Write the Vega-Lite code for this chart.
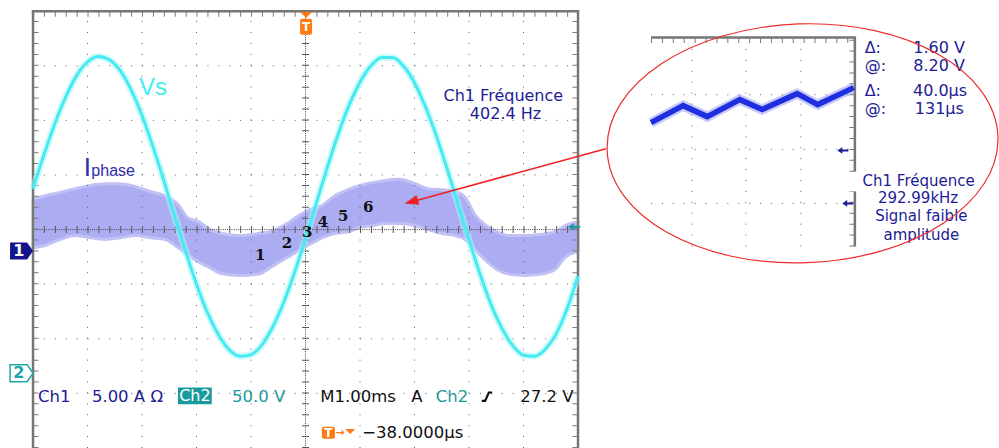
{
  "$schema": "https://vega.github.io/schema/vega-lite/v6.json",
  "width": 999,
  "height": 448,
  "autosize": "none",
  "padding": 0,
  "background": "white",
  "config": {"view": {"stroke": null}},
  "datasets": {
    "h": [
      {"k": "grid", "x": -5, "x2": 5, "y": -3}, {"k": "grid", "x": -5, "x2": 5, "y": -2}, {"k": "grid", "x": -5, "x2": 5, "y": -1},
      {"k": "grid", "x": -5, "x2": 5, "y": 1}, {"k": "grid", "x": -5, "x2": 5, "y": 2}, {"k": "grid", "x": -5, "x2": 5, "y": 3},
      {"k": "grid", "x": 6.34, "x2": 10.08, "y": 2.47}, {"k": "grid", "x": 6.34, "x2": 10.08, "y": 1.47}, {"k": "grid", "x": 6.34, "x2": 10.08, "y": 0.48},
      {"k": "center", "x": -5, "x2": 5, "y": 0},
      {"k": "border", "x": -5.02, "x2": 5.02, "y": 4}, {"k": "border", "x": 6.34, "x2": 10.1, "y": 3.52},
      {"k": "tick", "x": -5, "x2": 5, "y": 3.945}, {"k": "tick", "x": 6.34, "x2": 10.08, "y": 3.465}
    ],
    "v": [
      {"k": "grid", "x": -4, "y": -4, "y2": 4}, {"k": "grid", "x": -3, "y": -4, "y2": 4}, {"k": "grid", "x": -2, "y": -4, "y2": 4}, {"k": "grid", "x": -1, "y": -4, "y2": 4},
      {"k": "grid", "x": 1, "y": -4, "y2": 4}, {"k": "grid", "x": 2, "y": -4, "y2": 4}, {"k": "grid", "x": 3, "y": -4, "y2": 4}, {"k": "grid", "x": 4, "y": -4, "y2": 4},
      {"k": "grid", "x": 7.09, "y": -0.31, "y2": 3.52}, {"k": "grid", "x": 8.08, "y": -0.31, "y2": 3.52}, {"k": "grid", "x": 9.09, "y": -0.31, "y2": 3.52},
      {"k": "center", "x": 0, "y": -4, "y2": 4},
      {"k": "border", "x": -5, "y": -4, "y2": 4.02}, {"k": "border", "x": 5, "y": -4, "y2": 4.02},
      {"k": "border", "x": 10.08, "y": 1.06, "y2": 3.53}, {"k": "border", "x": 10.08, "y": -0.31, "y2": 0.7},
      {"k": "tick", "x": -4.945, "y": -4, "y2": 4}, {"k": "tick", "x": 4.945, "y": -4, "y2": 4},
      {"k": "tick", "x": 10.025, "y": 1.06, "y2": 3.52}, {"k": "tick", "x": 10.025, "y": -0.31, "y2": 0.7}
    ],
    "ip": [
      {"x": -5.0, "y": 0.55, "y2": -0.33}, {"x": -4.78, "y": 0.62, "y2": -0.29}, {"x": -4.5, "y": 0.68, "y2": -0.18}, {"x": -4.23, "y": 0.75, "y2": -0.11},
      {"x": -3.95, "y": 0.81, "y2": -0.15}, {"x": -3.68, "y": 0.84, "y2": -0.18}, {"x": -3.4, "y": 0.84, "y2": -0.15}, {"x": -3.13, "y": 0.79, "y2": -0.11},
      {"x": -2.85, "y": 0.7, "y2": -0.15}, {"x": -2.58, "y": 0.62, "y2": -0.18}, {"x": -2.34, "y": 0.46, "y2": -0.33}, {"x": -2.16, "y": 0.22, "y2": -0.46},
      {"x": -1.97, "y": 0.15, "y2": -0.59}, {"x": -1.75, "y": 0.0, "y2": -0.7}, {"x": -1.53, "y": -0.07, "y2": -0.81}, {"x": -1.2, "y": -0.11, "y2": -0.84},
      {"x": -0.87, "y": -0.07, "y2": -0.82}, {"x": -0.65, "y": -0.04, "y2": -0.7}, {"x": -0.47, "y": 0.04, "y2": -0.59}, {"x": -0.28, "y": 0.15, "y2": -0.48},
      {"x": -0.1, "y": 0.27, "y2": -0.37}, {"x": 0.08, "y": 0.37, "y2": -0.27}, {"x": 0.3, "y": 0.44, "y2": -0.15}, {"x": 0.54, "y": 0.62, "y2": -0.07},
      {"x": 0.78, "y": 0.73, "y2": -0.04}, {"x": 1.0, "y": 0.81, "y2": 0.04}, {"x": 1.22, "y": 0.86, "y2": 0.07}, {"x": 1.46, "y": 0.9, "y2": 0.11},
      {"x": 1.73, "y": 0.92, "y2": 0.11}, {"x": 2.01, "y": 0.84, "y2": 0.07}, {"x": 2.25, "y": 0.75, "y2": 0.0}, {"x": 2.5, "y": 0.73, "y2": -0.07},
      {"x": 2.74, "y": 0.7, "y2": -0.11}, {"x": 2.93, "y": 0.59, "y2": -0.18}, {"x": 3.11, "y": 0.27, "y2": -0.37}, {"x": 3.29, "y": 0.09, "y2": -0.55},
      {"x": 3.51, "y": -0.04, "y2": -0.73}, {"x": 3.75, "y": -0.11, "y2": -0.82}, {"x": 4.03, "y": -0.11, "y2": -0.84}, {"x": 4.3, "y": -0.09, "y2": -0.82},
      {"x": 4.58, "y": -0.04, "y2": -0.73}, {"x": 4.76, "y": 0.07, "y2": -0.51}, {"x": 5.0, "y": 0.15, "y2": -0.4}
    ],
    "vs": [
      {"x": -5.0, "y": 0.75}, {"x": -4.8, "y": 1.37}, {"x": -4.6, "y": 1.94}, {"x": -4.4, "y": 2.43}, {"x": -4.2, "y": 2.82},
      {"x": -4.0, "y": 3.07}, {"x": -3.8, "y": 3.17}, {"x": -3.6, "y": 3.11}, {"x": -3.4, "y": 2.91}, {"x": -3.2, "y": 2.56},
      {"x": -3.0, "y": 2.09}, {"x": -2.8, "y": 1.52}, {"x": -2.6, "y": 0.9}, {"x": -2.4, "y": 0.24}, {"x": -2.2, "y": -0.4},
      {"x": -2.0, "y": -1.0}, {"x": -1.8, "y": -1.52}, {"x": -1.6, "y": -1.92}, {"x": -1.4, "y": -2.2}, {"x": -1.2, "y": -2.32},
      {"x": -1.0, "y": -2.29}, {"x": -0.8, "y": -2.11}, {"x": -0.6, "y": -1.78}, {"x": -0.4, "y": -1.33}, {"x": -0.2, "y": -0.78},
      {"x": 0.0, "y": -0.16}, {"x": 0.2, "y": 0.49}, {"x": 0.4, "y": 1.14}, {"x": 0.6, "y": 1.75}, {"x": 0.8, "y": 2.28},
      {"x": 1.0, "y": 2.7}, {"x": 1.2, "y": 3.0}, {"x": 1.4, "y": 3.15}, {"x": 1.6, "y": 3.15}, {"x": 1.8, "y": 2.99},
      {"x": 2.0, "y": 2.69}, {"x": 2.2, "y": 2.25}, {"x": 2.4, "y": 1.72}, {"x": 2.6, "y": 1.11}, {"x": 2.8, "y": 0.46},
      {"x": 3.0, "y": -0.19}, {"x": 3.2, "y": -0.81}, {"x": 3.4, "y": -1.36}, {"x": 3.6, "y": -1.8}, {"x": 3.8, "y": -2.12},
      {"x": 4.0, "y": -2.3}, {"x": 4.2, "y": -2.32}, {"x": 4.4, "y": -2.19}, {"x": 4.6, "y": -1.91}, {"x": 4.8, "y": -1.45},
      {"x": 5.0, "y": -0.85}
    ],
    "zz": [
      {"x": 6.34, "y": 1.96}, {"x": 6.93, "y": 2.27}, {"x": 7.37, "y": 2.07}, {"x": 7.97, "y": 2.38},
      {"x": 8.38, "y": 2.2}, {"x": 9.02, "y": 2.49}, {"x": 9.4, "y": 2.29}, {"x": 10.06, "y": 2.6}
    ],
    "digits": [
      {"x": -0.83, "y": -0.46, "t": "1"}, {"x": -0.34, "y": -0.24, "t": "2"}, {"x": 0.03, "y": -0.05, "t": "3"},
      {"x": 0.32, "y": 0.13, "t": "4"}, {"x": 0.69, "y": 0.24, "t": "5"}, {"x": 1.15, "y": 0.42, "t": "6"}
    ],
    "tl": [
      {"x": -4.91, "y": -3.06, "t": "Ch1", "c": "ch1"},
      {"x": -3.92, "y": -3.06, "t": "5.00 A Ω", "c": "ch1"},
      {"x": -1.35, "y": -3.06, "t": "50.0 V", "c": "ch2"},
      {"x": 0.27, "y": -3.06, "t": "M1.00ms", "c": "main"},
      {"x": 1.94, "y": -3.06, "t": "A", "c": "main"},
      {"x": 2.39, "y": -3.06, "t": "Ch2", "c": "ch2"},
      {"x": 3.94, "y": -3.06, "t": "27.2 V", "c": "main"},
      {"x": 1.04, "y": -3.72, "t": "−38.0000µs", "c": "main"}
    ],
    "tli": [
      {"x": 10.26, "y": 3.33, "t": "Δ:"},
      {"x": 10.26, "y": 2.99, "t": "@:"},
      {"x": 10.26, "y": 2.53, "t": "Δ:"},
      {"x": 10.26, "y": 2.2, "t": "@:"}
    ],
    "tr": [
      {"x": 12.1, "y": 3.33, "t": "1.60 V"}, {"x": 12.1, "y": 2.99, "t": "8.20 V"},
      {"x": 12.14, "y": 2.53, "t": "40.0µs"}, {"x": 12.08, "y": 2.2, "t": "131µs"}
    ],
    "tc": [
      {"x": 3.63, "y": 2.44, "t": "Ch1 Fréquence"}, {"x": 3.67, "y": 2.11, "t": "402.4 Hz"}
    ],
    "tci": [
      {"x": 11.25, "y": 0.89, "t": "Ch1 Fréquence"}, {"x": 11.24, "y": 0.57, "t": "292.99kHz"},
      {"x": 11.3, "y": 0.24, "t": "Signal faible"}, {"x": 11.3, "y": -0.09, "t": "amplitude"}
    ],
    "box": [
      {"k": "ch2", "x": -2.34, "x2": -1.72, "y": -2.89, "y2": -3.2},
      {"k": "trig", "x": 0.3, "x2": 0.54, "y": -3.61, "y2": -3.83},
      {"k": "trig", "x": -0.1, "x2": 0.12, "y": 3.86, "y2": 3.57}
    ],
    "sym": [
      {"k": "trigtop", "x": 0.01, "y": 3.93},
      {"k": "trigbot", "x": 0.82, "y": -3.7},
      {"k": "m1", "x": -5.21, "y": -0.39},
      {"k": "m2", "x": -5.21, "y": -2.63},
      {"k": "ch2arrow", "x": 4.93, "y": 0.05},
      {"k": "insetarrow", "x": 9.86, "y": 1.45},
      {"k": "insetarrow", "x": 9.95, "y": 0.48},
      {"k": "edge", "x": 3.33, "y": -3.06},
      {"k": "ellipse", "x": 9.12, "y": 1.58},
      {"k": "head", "x": 1.94, "y": 0.51}
    ],
    "lab": [
      {"k": "m1", "x": -5.26, "y": -0.39, "t": "1"},
      {"k": "m2", "x": -5.26, "y": -2.63, "t": "2"},
      {"k": "trig", "x": 0.01, "y": 3.71, "t": "T"},
      {"k": "trig", "x": 0.42, "y": -3.72, "t": "T"},
      {"k": "ch2box", "x": -2.03, "y": -3.05, "t": "Ch2"},
      {"k": "arrow", "x": 0.63, "y": -3.72, "t": "→"}
    ],
    "names": [
      {"k": "vs", "x": -2.8, "y": 2.6, "t": "Vs"},
      {"k": "I", "x": -4.07, "y": 0.99, "t": "I"},
      {"k": "phase", "x": -3.93, "y": 0.99, "t": "phase"}
    ],
    "arrow": [
      {"x": 5.51, "y": 1.48, "x2": 1.95, "y2": 0.51}
    ]
  },
  "encoding": {
    "x": {"field": "x", "type": "quantitative", "scale": {"domain": [-5.606, 12.725], "nice": false, "zero": false}, "axis": null},
    "y": {"field": "y", "type": "quantitative", "scale": {"domain": [-4.0, 4.205], "nice": false, "zero": false}, "axis": null}
  },
  "layer": [
    {"data": {"name": "ip"}, "mark": {"type": "area", "color": "#a6a6f1", "opacity": 0.92, "stroke": "#bcbcf6", "strokeWidth": 3, "interpolate": "monotone"}, "encoding": {"y2": {"field": "y2"}}},
    {"data": {"name": "h"}, "transform": [{"filter": "datum.k === 'grid'"}], "mark": {"type": "rule", "color": "#5e5e5e", "strokeWidth": 1, "strokeDash": [1, 9.9]}, "encoding": {"x2": {"field": "x2"}}},
    {"data": {"name": "v"}, "transform": [{"filter": "datum.k === 'grid'"}], "mark": {"type": "rule", "color": "#5e5e5e", "strokeWidth": 1, "strokeDash": [1, 9.92]}, "encoding": {"y2": {"field": "y2"}}},
    {"data": {"name": "h"}, "transform": [{"filter": "datum.k === 'center'"}], "mark": {"type": "rule", "color": "#444444", "strokeWidth": 1, "strokeDash": [1, 1.18]}, "encoding": {"x2": {"field": "x2"}}},
    {"data": {"name": "h"}, "transform": [{"filter": "datum.k === 'center'"}], "mark": {"type": "rule", "color": "#555555", "strokeWidth": 7, "strokeDash": [1, 9.9]}, "encoding": {"x2": {"field": "x2"}}},
    {"data": {"name": "v"}, "transform": [{"filter": "datum.k === 'center'"}], "mark": {"type": "rule", "color": "#444444", "strokeWidth": 1, "strokeDash": [1, 1.18]}, "encoding": {"y2": {"field": "y2"}}},
    {"data": {"name": "v"}, "transform": [{"filter": "datum.k === 'center'"}], "mark": {"type": "rule", "color": "#555555", "strokeWidth": 7, "strokeDash": [1, 9.92]}, "encoding": {"y2": {"field": "y2"}}},
    {"data": {"name": "h"}, "transform": [{"filter": "datum.k === 'border'"}], "mark": {"type": "rule", "color": "#767676", "strokeWidth": 2.5}, "encoding": {"x2": {"field": "x2"}}},
    {"data": {"name": "v"}, "transform": [{"filter": "datum.k === 'border'"}], "mark": {"type": "rule", "color": "#767676", "strokeWidth": 2.5}, "encoding": {"y2": {"field": "y2"}}},
    {"data": {"name": "h"}, "transform": [{"filter": "datum.k === 'tick'"}], "mark": {"type": "rule", "color": "#7a7a7a", "strokeWidth": 5, "strokeDash": [1, 9.9]}, "encoding": {"x2": {"field": "x2"}}},
    {"data": {"name": "v"}, "transform": [{"filter": "datum.k === 'tick'"}], "mark": {"type": "rule", "color": "#7a7a7a", "strokeWidth": 5, "strokeDash": [1, 9.92]}, "encoding": {"y2": {"field": "y2"}}},
    {"data": {"name": "vs"}, "mark": {"type": "line", "color": "#a6f5f9", "strokeWidth": 7, "opacity": 0.55, "interpolate": "monotone"}},
    {"data": {"name": "vs"}, "mark": {"type": "line", "color": "#45eaf2", "strokeWidth": 3, "interpolate": "monotone"}},
    {"data": {"name": "digits"}, "mark": {"type": "text", "font": "DejaVu Serif", "fontWeight": "bold", "fontSize": 15, "color": "#111111"}, "encoding": {"text": {"field": "t"}}},
    {"data": {"name": "zz"}, "mark": {"type": "line", "color": "#8e96f2", "strokeWidth": 10, "opacity": 0.5}},
    {"data": {"name": "zz"}, "mark": {"type": "line", "color": "#1f2fe0", "strokeWidth": 5.5}},
    {"data": {"name": "box"}, "transform": [{"filter": "datum.k === 'ch2'"}], "mark": {"type": "rect", "color": "#1a9a9a"}, "encoding": {"x2": {"field": "x2"}, "y2": {"field": "y2"}}},
    {"data": {"name": "box"}, "transform": [{"filter": "datum.k === 'trig'"}], "mark": {"type": "rect", "color": "#ff7a14", "cornerRadius": 2}, "encoding": {"x2": {"field": "x2"}, "y2": {"field": "y2"}}},
    {"data": {"name": "sym"}, "transform": [{"filter": "datum.k === 'trigtop'"}], "mark": {"type": "point", "shape": "M-1,-0.5L1,-0.5L0,0.5Z", "size": 144, "filled": true, "color": "#ff7a14", "opacity": 1}},
    {"data": {"name": "sym"}, "transform": [{"filter": "datum.k === 'trigbot'"}], "mark": {"type": "point", "shape": "M-1,-0.5L1,-0.5L0,0.5Z", "size": 100, "filled": true, "color": "#ff7a14", "opacity": 1}},
    {"data": {"name": "sym"}, "transform": [{"filter": "datum.k === 'm1'"}], "mark": {"type": "point", "shape": "M-1,-0.74L0.48,-0.74L1,0L0.48,0.74L-1,0.74Z", "size": 529, "filled": true, "color": "#14148a", "opacity": 1}},
    {"data": {"name": "sym"}, "transform": [{"filter": "datum.k === 'm2'"}], "mark": {"type": "point", "shape": "M-1,-0.74L0.48,-0.74L1,0L0.48,0.74L-1,0.74Z", "size": 529, "filled": false, "stroke": "#1fa5a5", "fill": "#ffffff", "fillOpacity": 1, "strokeWidth": 1.5, "opacity": 1}},
    {"data": {"name": "sym"}, "transform": [{"filter": "datum.k === 'ch2arrow'"}], "mark": {"type": "point", "shape": "M-1,0L-0.1,-0.6L-0.1,-0.18L1,-0.18L1,0.18L-0.1,0.18L-0.1,0.6Z", "size": 144, "filled": true, "color": "#1a9a9a", "opacity": 1}},
    {"data": {"name": "sym"}, "transform": [{"filter": "datum.k === 'insetarrow'"}], "mark": {"type": "point", "shape": "M-1,0L-0.1,-0.6L-0.1,-0.18L1,-0.18L1,0.18L-0.1,0.18L-0.1,0.6Z", "size": 121, "filled": true, "color": "#1c1c94", "opacity": 1}},
    {"data": {"name": "sym"}, "transform": [{"filter": "datum.k === 'edge'"}], "mark": {"type": "point", "shape": "M-1,0.8L-0.35,0.8L0.35,-0.8L1,-0.8", "size": 110, "filled": false, "color": "#111111", "strokeWidth": 2.2, "opacity": 1}},
    {"data": {"name": "lab"}, "transform": [{"filter": "datum.k === 'm1'"}], "mark": {"type": "text", "font": "DejaVu Sans", "fontWeight": "bold", "fontSize": 16, "color": "#ffffff"}, "encoding": {"text": {"field": "t"}}},
    {"data": {"name": "lab"}, "transform": [{"filter": "datum.k === 'm2'"}], "mark": {"type": "text", "font": "DejaVu Sans", "fontWeight": "bold", "fontSize": 16, "color": "#1fa5a5"}, "encoding": {"text": {"field": "t"}}},
    {"data": {"name": "lab"}, "transform": [{"filter": "datum.k === 'trig'"}], "mark": {"type": "text", "font": "DejaVu Sans", "fontWeight": "bold", "fontSize": 12, "color": "#ffffff"}, "encoding": {"text": {"field": "t"}}},
    {"data": {"name": "lab"}, "transform": [{"filter": "datum.k === 'ch2box'"}], "mark": {"type": "text", "font": "DejaVu Sans", "fontSize": 16, "color": "#ffffff"}, "encoding": {"text": {"field": "t"}}},
    {"data": {"name": "lab"}, "transform": [{"filter": "datum.k === 'arrow'"}], "mark": {"type": "text", "font": "DejaVu Sans", "fontWeight": "bold", "fontSize": 11, "color": "#ff7a14"}, "encoding": {"text": {"field": "t"}}},
    {"data": {"name": "tl"}, "mark": {"type": "text", "align": "left", "font": "DejaVu Sans", "fontSize": 16.5}, "encoding": {"text": {"field": "t"}, "color": {"field": "c", "type": "nominal", "scale": {"domain": ["ch1", "ch2", "main"], "range": ["#1c1c94", "#1a9a9a", "#111111"]}, "legend": null}}},
    {"data": {"name": "tli"}, "mark": {"type": "text", "align": "left", "font": "DejaVu Sans", "fontSize": 16, "color": "#1c1c94"}, "encoding": {"text": {"field": "t"}}},
    {"data": {"name": "tr"}, "mark": {"type": "text", "align": "right", "font": "DejaVu Sans", "fontSize": 16, "color": "#1c1c94"}, "encoding": {"text": {"field": "t"}}},
    {"data": {"name": "tc"}, "mark": {"type": "text", "align": "center", "font": "DejaVu Sans", "fontSize": 16, "color": "#1c1c94"}, "encoding": {"text": {"field": "t"}}},
    {"data": {"name": "tci"}, "mark": {"type": "text", "align": "center", "font": "DejaVu Sans", "fontSize": 15, "color": "#1c1c94"}, "encoding": {"text": {"field": "t"}}},
    {"data": {"name": "names"}, "transform": [{"filter": "datum.k === 'vs'"}], "mark": {"type": "text", "font": "Liberation Sans", "fontSize": 24, "color": "#3deef2"}, "encoding": {"text": {"field": "t"}}},
    {"data": {"name": "names"}, "transform": [{"filter": "datum.k === 'I'"}], "mark": {"type": "text", "align": "left", "baseline": "alphabetic", "font": "Liberation Sans", "fontSize": 26, "color": "#2e2eaa"}, "encoding": {"text": {"field": "t"}}},
    {"data": {"name": "names"}, "transform": [{"filter": "datum.k === 'phase'"}], "mark": {"type": "text", "align": "left", "baseline": "alphabetic", "font": "Liberation Sans", "fontSize": 16, "color": "#2e2eaa"}, "encoding": {"text": {"field": "t"}}},
    {"data": {"name": "sym"}, "transform": [{"filter": "datum.k === 'ellipse'"}], "mark": {"type": "point", "shape": "M-1,0A1,0.611,0,1,1,1,0A1,0.611,0,1,1,-1,0Z", "size": 152881, "angle": -2, "filled": false, "color": "#ee2b2b", "strokeWidth": 1.2, "opacity": 1}},
    {"data": {"name": "arrow"}, "mark": {"type": "rule", "color": "#ee2222", "strokeWidth": 1.6}, "encoding": {"x2": {"field": "x2"}, "y2": {"field": "y2"}}},
    {"data": {"name": "sym"}, "transform": [{"filter": "datum.k === 'head'"}], "mark": {"type": "point", "shape": "M1,0L-1,-0.7L-1,0.7Z", "size": 196, "angle": 164.7, "filled": true, "color": "#ee2222", "opacity": 1}}
  ]
}
